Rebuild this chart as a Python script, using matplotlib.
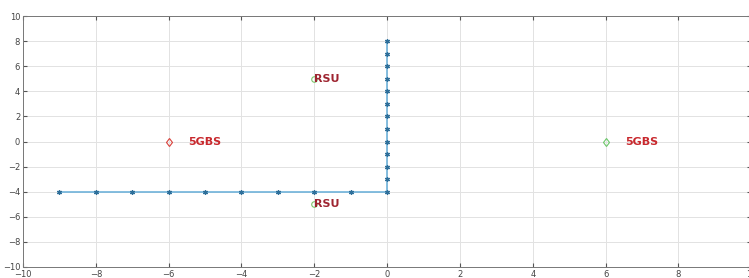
import matplotlib
matplotlib.use("Agg")
import matplotlib.pyplot as plt

# vehicle path points
path_x = [-9, -8, -7, -6, -5, -4, -3, -2, -1, 0, 0, 0, 0, 0, 0, 0, 0, 0, 0, 0, 0, 0]
path_y = [-4, -4, -4, -4, -4, -4, -4, -4, -4, -4, -3, -2, -1, 0, 1, 2, 3, 4, 5, 6, 7, 8]

# base stations
gbs_x = [-6, 6]
gbs_y = [0, 0]
gbs_colors = ["#d9403a", "#6cc76a"]
gbs_label = "5GBS"

# road side units
rsu_x = [-2, -2]
rsu_y = [5, -5]
rsu_label = "RSU"

fig = plt.figure(figsize=(7.49, 2.78), dpi=100)
ax = fig.add_axes([0.0307, 0.0396, 0.9723, 0.9024])

ax.plot(path_x, path_y, "-", color="#6fb3da", lw=1.2, zorder=2)
# matlab style asterisk marker
ax.plot(path_x, path_y, ls="none", marker=(6, 2, 0), color="#2e6f9a", ms=3.5, mew=0.9, zorder=3)

for x, y, c in zip(gbs_x, gbs_y, gbs_colors):
    ax.plot(x, y, "d", mfc="none", mec=c, ms=4.5, mew=0.8)
    ax.text(x + 0.55, y, gbs_label, color="#c8282d", fontsize=8, fontweight="bold",
            va="center", ha="left")

for x, y in zip(rsu_x, rsu_y):
    ax.plot(x, y, "o", mfc="none", mec="#7cc46a", ms=4, mew=0.8)
    ax.text(x, y, rsu_label, color="#9e2430", fontsize=8, fontweight="bold",
            va="center", ha="left")

ax.set_xlim(-10, 10)
ax.set_ylim(-10, 10)
ax.set_xticks(range(-10, 11, 2))
ax.set_yticks(range(-10, 11, 2))
ax.grid(True, color="#e2e2e2", lw=0.7)
ax.set_axisbelow(True)
ax.tick_params(direction="in", top=True, right=True, length=3, labelsize=6,
               colors="#555555", labelcolor="#444444", pad=2)
for s in ax.spines.values():
    s.set_color("#777777")
    s.set_linewidth(0.7)

fig.savefig("out.png", dpi=100)
